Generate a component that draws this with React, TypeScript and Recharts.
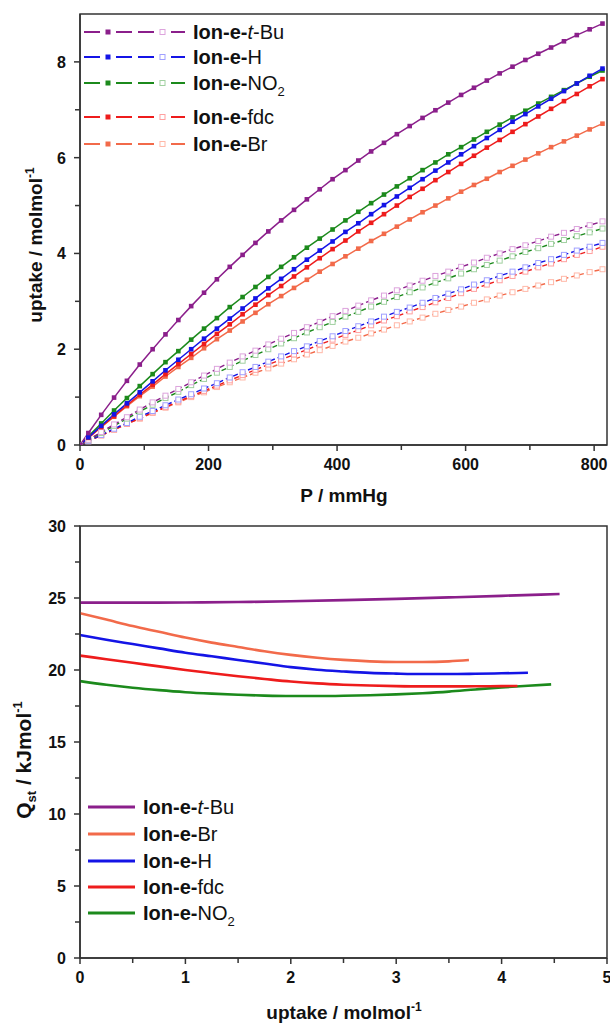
import React from 'react';
import { LineChart, Line, XAxis, YAxis, ReferenceArea } from 'recharts';

// ---------- Top chart: isotherms (P / mmHg vs uptake) ----------
const P = [0, 13, 33, 53, 73, 93, 113, 133, 153, 173, 193, 213, 233, 253, 273, 293, 313, 333, 353, 373, 393, 413, 433, 453, 473, 493, 513, 533, 553, 573, 593, 613, 633, 653, 673, 693, 713, 733, 753, 773, 793, 813];

const tBuF = [0, 0.25, 0.63, 0.99, 1.34, 1.68, 2.0, 2.31, 2.61, 2.9, 3.18, 3.46, 3.72, 3.97, 4.22, 4.46, 4.69, 4.91, 5.13, 5.34, 5.55, 5.74, 5.94, 6.13, 6.31, 6.49, 6.66, 6.83, 6.99, 7.15, 7.31, 7.46, 7.61, 7.76, 7.9, 8.04, 8.17, 8.3, 8.43, 8.56, 8.68, 8.8];
const HF = [0, 0.16, 0.4, 0.64, 0.87, 1.1, 1.33, 1.56, 1.78, 2.0, 2.22, 2.43, 2.64, 2.85, 3.06, 3.27, 3.47, 3.67, 3.87, 4.06, 4.25, 4.45, 4.63, 4.82, 5.01, 5.19, 5.37, 5.55, 5.73, 5.9, 6.07, 6.24, 6.41, 6.58, 6.75, 6.91, 7.07, 7.23, 7.39, 7.55, 7.71, 7.86];
const NO2F = [0, 0.18, 0.45, 0.72, 0.98, 1.23, 1.48, 1.73, 1.96, 2.2, 2.43, 2.65, 2.88, 3.09, 3.3, 3.51, 3.72, 3.92, 4.12, 4.31, 4.5, 4.69, 4.87, 5.05, 5.23, 5.4, 5.57, 5.74, 5.9, 6.07, 6.22, 6.38, 6.54, 6.69, 6.84, 6.98, 7.13, 7.27, 7.41, 7.55, 7.69, 7.82];
const fdcF = [0, 0.15, 0.38, 0.6, 0.83, 1.05, 1.26, 1.48, 1.69, 1.9, 2.11, 2.32, 2.52, 2.73, 2.93, 3.13, 3.32, 3.52, 3.71, 3.9, 4.09, 4.27, 4.46, 4.64, 4.82, 5.0, 5.18, 5.35, 5.53, 5.7, 5.87, 6.04, 6.21, 6.37, 6.54, 6.7, 6.86, 7.02, 7.18, 7.33, 7.49, 7.64];
const BrF = [0, 0.15, 0.37, 0.59, 0.81, 1.02, 1.22, 1.43, 1.63, 1.82, 2.02, 2.21, 2.39, 2.58, 2.76, 2.94, 3.11, 3.28, 3.45, 3.62, 3.78, 3.94, 4.1, 4.26, 4.41, 4.56, 4.71, 4.86, 5.0, 5.15, 5.29, 5.43, 5.56, 5.7, 5.83, 5.96, 6.09, 6.22, 6.34, 6.46, 6.59, 6.71];

const tBuO = [0, 0.11, 0.27, 0.43, 0.58, 0.74, 0.89, 1.03, 1.17, 1.31, 1.45, 1.59, 1.72, 1.85, 1.97, 2.1, 2.22, 2.34, 2.46, 2.57, 2.69, 2.8, 2.91, 3.02, 3.12, 3.23, 3.33, 3.43, 3.53, 3.62, 3.72, 3.81, 3.91, 4.0, 4.09, 4.17, 4.26, 4.35, 4.43, 4.51, 4.59, 4.67];
const HO = [0, 0.08, 0.21, 0.34, 0.46, 0.59, 0.71, 0.83, 0.95, 1.06, 1.18, 1.29, 1.41, 1.52, 1.63, 1.74, 1.85, 1.96, 2.06, 2.17, 2.27, 2.38, 2.48, 2.58, 2.68, 2.78, 2.87, 2.97, 3.07, 3.16, 3.25, 3.35, 3.44, 3.53, 3.62, 3.71, 3.8, 3.88, 3.97, 4.06, 4.14, 4.22];
const NO2O = [0, 0.1, 0.25, 0.4, 0.55, 0.7, 0.84, 0.98, 1.11, 1.25, 1.38, 1.51, 1.63, 1.76, 1.88, 2.0, 2.12, 2.23, 2.35, 2.46, 2.57, 2.68, 2.78, 2.89, 2.99, 3.09, 3.19, 3.29, 3.39, 3.48, 3.58, 3.67, 3.76, 3.85, 3.94, 4.03, 4.11, 4.2, 4.28, 4.36, 4.44, 4.52];
const fdcO = [0, 0.08, 0.2, 0.32, 0.44, 0.56, 0.68, 0.79, 0.91, 1.02, 1.13, 1.24, 1.35, 1.46, 1.57, 1.68, 1.78, 1.89, 1.99, 2.1, 2.2, 2.3, 2.4, 2.5, 2.6, 2.69, 2.79, 2.88, 2.98, 3.07, 3.17, 3.26, 3.35, 3.44, 3.53, 3.62, 3.71, 3.79, 3.88, 3.97, 4.05, 4.14];
const BrO = [0, 0.08, 0.2, 0.32, 0.44, 0.55, 0.67, 0.78, 0.89, 1.0, 1.1, 1.21, 1.31, 1.41, 1.51, 1.6, 1.7, 1.79, 1.89, 1.98, 2.07, 2.16, 2.24, 2.33, 2.41, 2.5, 2.58, 2.66, 2.74, 2.82, 2.89, 2.97, 3.04, 3.12, 3.19, 3.26, 3.33, 3.4, 3.47, 3.54, 3.61, 3.67];

const isoTicksX = [0, 100, 200, 300, 400, 500, 600, 700, 800];
const isoTicksY = [0, 1, 2, 3, 4, 5, 6, 7, 8];

// ---------- Bottom chart: Qst vs uptake ----------
const qTBuX = [0, 0.5, 1, 1.5, 2, 2.5, 3, 3.5, 4, 4.55];
const qTBuY = [24.68, 24.68, 24.69, 24.72, 24.77, 24.85, 24.94, 25.04, 25.15, 25.28];
const qBrX = [0, 0.25, 0.5, 0.75, 1, 1.25, 1.5, 1.75, 2, 2.25, 2.5, 2.75, 3, 3.25, 3.5, 3.69];
const qBrY = [23.94, 23.5, 23.05, 22.65, 22.25, 21.9, 21.6, 21.3, 21.05, 20.85, 20.7, 20.6, 20.56, 20.56, 20.6, 20.69];
const qHX = [0, 0.25, 0.5, 0.75, 1, 1.25, 1.5, 1.75, 2, 2.25, 2.5, 2.75, 3, 3.25, 3.5, 3.75, 4, 4.25];
const qHY = [22.43, 22.1, 21.8, 21.5, 21.2, 20.95, 20.7, 20.45, 20.2, 20.02, 19.9, 19.8, 19.75, 19.72, 19.72, 19.74, 19.77, 19.81];
const qFdcX = [0, 0.25, 0.5, 0.75, 1, 1.25, 1.5, 1.75, 2, 2.25, 2.5, 2.75, 3, 3.25, 3.5, 3.75, 4, 4.15];
const qFdcY = [21.0, 20.75, 20.5, 20.25, 20.0, 19.78, 19.57, 19.38, 19.2, 19.07, 18.98, 18.92, 18.88, 18.86, 18.86, 18.87, 18.88, 18.89];
const qNO2X = [0, 0.25, 0.5, 0.75, 1, 1.25, 1.5, 1.75, 2, 2.25, 2.5, 2.75, 3, 3.25, 3.5, 3.75, 4, 4.25, 4.47];
const qNO2Y = [19.23, 18.98, 18.77, 18.6, 18.46, 18.36, 18.28, 18.22, 18.19, 18.19, 18.21, 18.25, 18.31, 18.39, 18.5, 18.65, 18.79, 18.91, 19.0];

const qstTicksX = [0, 0.5, 1, 1.5, 2, 2.5, 3, 3.5, 4, 4.5, 5];
const qstTicksY = [0, 2.5, 5, 7.5, 10, 12.5, 15, 17.5, 20, 22.5, 25, 27.5, 30];

// ---------- styles ----------
const FONT = "'Liberation Sans', Arial, Helvetica, sans-serif";
const AXIS = '#333333';
const C_TBU = '#8B1F8B';
const C_H = '#1414E6';
const C_NO2 = '#1C8A1C';
const C_FDC = '#EE1C1C';
const C_BR = '#F26A4A';
const L_TBU = '#DDA4DD';
const L_H = '#A0A0FF';
const L_NO2 = '#A0D0A0';
const L_FDC = '#FFA0A0';
const L_BR = '#FFB8A8';

const isoData = P.map((p, i) => ({
  p,
  tBuF: tBuF[i], HF: HF[i], NO2F: NO2F[i], fdcF: fdcF[i], BrF: BrF[i],
  tBuO: tBuO[i], HO: HO[i], NO2O: NO2O[i], fdcO: fdcO[i], BrO: BrO[i],
}));

const zip = (xs: number[], ys: number[]) => xs.map((x, i) => ({ x, y: ys[i] }));

const isMajor = (v: number, step: number) => Math.abs(v / step - Math.round(v / step)) < 1e-6;

const makeXTick = (step: number) => (props: any) => {
  const { x, y, payload } = props;
  const v = payload.value;
  const major = isMajor(v, step);
  return (
    <g>
      <line x1={x} x2={x} y1={y} y2={y + (major ? 6 : 5)} stroke={AXIS} strokeWidth={1.5} />
      {major && (
        <text x={x} y={y + 25} textAnchor="middle" fontSize={16} fontWeight="bold" fontFamily={FONT} fill="#111">
          {v}
        </text>
      )}
    </g>
  );
};

const makeYTick = (step: number) => (props: any) => {
  const { x, y, payload } = props;
  const v = payload.value;
  const major = isMajor(v, step);
  return (
    <g>
      <line x1={x - (major ? 6 : 5)} x2={x} y1={y} y2={y} stroke={AXIS} strokeWidth={1.5} />
      {major && (
        <text x={x - 14} y={y + 6} textAnchor="end" fontSize={16} fontWeight="bold" fontFamily={FONT} fill="#111">
          {v}
        </text>
      )}
    </g>
  );
};

const filledDot = (color: string) => (props: any) => {
  const { cx, cy, index } = props;
  if (cx == null || cy == null) return <g key={`f${index}`} />;
  return <rect key={`f${index}`} x={cx - 2.3} y={cy - 2.3} width={4.6} height={4.6} fill={color} />;
};

const openDot = (color: string) => (props: any) => {
  const { cx, cy, index } = props;
  if (cx == null || cy == null) return <g key={`o${index}`} />;
  return <rect key={`o${index}`} x={cx - 2.5} y={cy - 2.5} width={5} height={5} fill="#fff" stroke={color} strokeWidth={1} />;
};

const topLegend = [
  { name: 'tBu', color: C_TBU, light: L_TBU, cy: 32 },
  { name: 'H', color: C_H, light: L_H, cy: 57 },
  { name: 'NO2', color: C_NO2, light: L_NO2, cy: 83 },
  { name: 'fdc', color: C_FDC, light: L_FDC, cy: 117 },
  { name: 'Br', color: C_BR, light: L_BR, cy: 144 },
];

const bottomLegend = [
  { name: 'tBu', color: C_TBU, cy: 807 },
  { name: 'Br', color: C_BR, cy: 834 },
  { name: 'H', color: C_H, cy: 861 },
  { name: 'fdc', color: C_FDC, cy: 887 },
  { name: 'NO2', color: C_NO2, cy: 913 },
];

const LegendLabel = ({ name, x, y }: { name: string; x: number; y: number }) => (
  <text x={x} y={y} fontSize={20} fontFamily={FONT} fill="#111">
    <tspan fontWeight="bold">Ion-e-</tspan>
    {name === 'tBu' && (
      <>
        <tspan fontStyle="italic">t</tspan>
        <tspan>-Bu</tspan>
      </>
    )}
    {name === 'H' && <tspan>H</tspan>}
    {name === 'fdc' && <tspan>fdc</tspan>}
    {name === 'Br' && <tspan>Br</tspan>}
    {name === 'NO2' && (
      <>
        <tspan>NO</tspan>
        <tspan fontSize={13} dy={6}>2</tspan>
      </>
    )}
  </text>
);

export default function App() {
  return (
    <div style={{ position: 'absolute', left: 0, top: 0, width: 610, height: 1028, background: '#fff', overflow: 'hidden' }}>
      <div style={{ position: 'absolute', left: 0, top: 0 }}>
        <LineChart width={610} height={505} data={isoData} margin={{ top: 14, right: 3, left: 0, bottom: 0 }}>
          <XAxis
            dataKey="p"
            type="number"
            domain={[0, 820]}
            allowDataOverflow
            ticks={isoTicksX}
            interval={0}
            height={60}
            tickSize={0}
            tickMargin={0}
            tickLine={false}
            axisLine={{ stroke: AXIS, strokeWidth: 1.5 }}
            tick={makeXTick(200)}
          />
          <YAxis
            type="number"
            domain={[0, 9]}
            allowDataOverflow
            ticks={isoTicksY}
            interval={0}
            width={80}
            tickSize={0}
            tickMargin={0}
            tickLine={false}
            axisLine={{ stroke: AXIS, strokeWidth: 1.5 }}
            tick={makeYTick(2)}
          />
          <ReferenceArea x1={0} x2={820} y1={0} y2={9} fill="none" fillOpacity={0} stroke={AXIS} strokeWidth={1.5} ifOverflow="visible" />
          <Line dataKey="BrO" stroke={C_BR} strokeWidth={1.4} strokeDasharray="5 3" dot={openDot(L_BR)} isAnimationActive={false} />
          <Line dataKey="fdcO" stroke={C_FDC} strokeWidth={1.4} strokeDasharray="5 3" dot={openDot(L_FDC)} isAnimationActive={false} />
          <Line dataKey="HO" stroke={C_H} strokeWidth={1.4} strokeDasharray="5 3" dot={openDot(L_H)} isAnimationActive={false} />
          <Line dataKey="NO2O" stroke={C_NO2} strokeWidth={1.4} strokeDasharray="5 3" dot={openDot(L_NO2)} isAnimationActive={false} />
          <Line dataKey="tBuO" stroke={C_TBU} strokeWidth={1.4} strokeDasharray="5 3" dot={openDot(L_TBU)} isAnimationActive={false} />
          <Line dataKey="BrF" stroke={C_BR} strokeWidth={1.5} dot={filledDot(C_BR)} isAnimationActive={false} />
          <Line dataKey="fdcF" stroke={C_FDC} strokeWidth={1.5} dot={filledDot(C_FDC)} isAnimationActive={false} />
          <Line dataKey="NO2F" stroke={C_NO2} strokeWidth={1.5} dot={filledDot(C_NO2)} isAnimationActive={false} />
          <Line dataKey="HF" stroke={C_H} strokeWidth={1.5} dot={filledDot(C_H)} isAnimationActive={false} />
          <Line dataKey="tBuF" stroke={C_TBU} strokeWidth={1.5} dot={filledDot(C_TBU)} isAnimationActive={false} />
        </LineChart>
      </div>

      <div style={{ position: 'absolute', left: 0, top: 505 }}>
        <LineChart width={610} height={523} margin={{ top: 21, right: 3, left: 0, bottom: 0 }}>
          <XAxis
            dataKey="x"
            type="number"
            domain={[0, 5]}
            allowDataOverflow
            ticks={qstTicksX}
            interval={0}
            height={70}
            tickSize={0}
            tickMargin={0}
            tickLine={false}
            axisLine={{ stroke: AXIS, strokeWidth: 1.5 }}
            tick={makeXTick(1)}
          />
          <YAxis
            type="number"
            domain={[0, 30]}
            allowDataOverflow
            ticks={qstTicksY}
            interval={0}
            width={80}
            tickSize={0}
            tickMargin={0}
            tickLine={false}
            axisLine={{ stroke: AXIS, strokeWidth: 1.5 }}
            tick={makeYTick(5)}
          />
          <ReferenceArea x1={0} x2={5} y1={0} y2={30} fill="none" fillOpacity={0} stroke={AXIS} strokeWidth={1.5} ifOverflow="visible" />
          <Line data={zip(qNO2X, qNO2Y)} dataKey="y" type="monotone" stroke={C_NO2} strokeWidth={2.6} dot={false} isAnimationActive={false} />
          <Line data={zip(qFdcX, qFdcY)} dataKey="y" type="monotone" stroke={C_FDC} strokeWidth={2.6} dot={false} isAnimationActive={false} />
          <Line data={zip(qHX, qHY)} dataKey="y" type="monotone" stroke={C_H} strokeWidth={2.6} dot={false} isAnimationActive={false} />
          <Line data={zip(qBrX, qBrY)} dataKey="y" type="monotone" stroke={C_BR} strokeWidth={2.6} dot={false} isAnimationActive={false} />
          <Line data={zip(qTBuX, qTBuY)} dataKey="y" type="monotone" stroke={C_TBU} strokeWidth={2.6} dot={false} isAnimationActive={false} />
        </LineChart>
      </div>

      <svg width={610} height={1028} style={{ position: 'absolute', left: 0, top: 0, pointerEvents: 'none' }}>
        {/* top legend */}
        {topLegend.map((l) => (
          <g key={l.name}>
            <line x1={84} x2={100} y1={l.cy} y2={l.cy} stroke={l.color} strokeWidth={2} />
            <rect x={105.5} y={l.cy - 2.5} width={5} height={5} fill={l.color} />
            <line x1={116} x2={132} y1={l.cy} y2={l.cy} stroke={l.color} strokeWidth={2} />
            <line x1={138} x2={154} y1={l.cy} y2={l.cy} stroke={l.color} strokeWidth={2} />
            <rect x={160} y={l.cy - 2.5} width={5} height={5} fill="#fff" stroke={l.light} strokeWidth={1} />
            <line x1={171} x2={185} y1={l.cy} y2={l.cy} stroke={l.color} strokeWidth={2} />
            <LegendLabel name={l.name} x={193} y={l.cy + 7} />
          </g>
        ))}
        {/* bottom legend */}
        {bottomLegend.map((l) => (
          <g key={l.name}>
            <line x1={88} x2={135} y1={l.cy} y2={l.cy} stroke={l.color} strokeWidth={3} />
            <LegendLabel name={l.name} x={143} y={l.cy + 7} />
          </g>
        ))}
        {/* axis titles */}
        <text x={344} y={502} textAnchor="middle" fontSize={19} fontWeight="bold" fontFamily={FONT} fill="#111">
          P / mmHg
        </text>
        <text transform="translate(42,245) rotate(-90)" textAnchor="middle" fontSize={19} fontWeight="bold" fontFamily={FONT} fill="#111">
          uptake / molmol<tspan fontSize={12} dy={-8}>-1</tspan>
        </text>
        <text x={344} y={1019} textAnchor="middle" fontSize={19} fontWeight="bold" fontFamily={FONT} fill="#111">
          uptake / molmol<tspan fontSize={12} dy={-8}>-1</tspan>
        </text>
        <text transform="translate(31,760) rotate(-90)" textAnchor="middle" fontSize={21} fontWeight="bold" fontFamily={FONT} fill="#111">
          Q<tspan fontSize={13} dy={5}>st</tspan>
          <tspan dy={-5}> / kJmol</tspan>
          <tspan fontSize={13} dy={-9}>-1</tspan>
        </text>
      </svg>
    </div>
  );
}
